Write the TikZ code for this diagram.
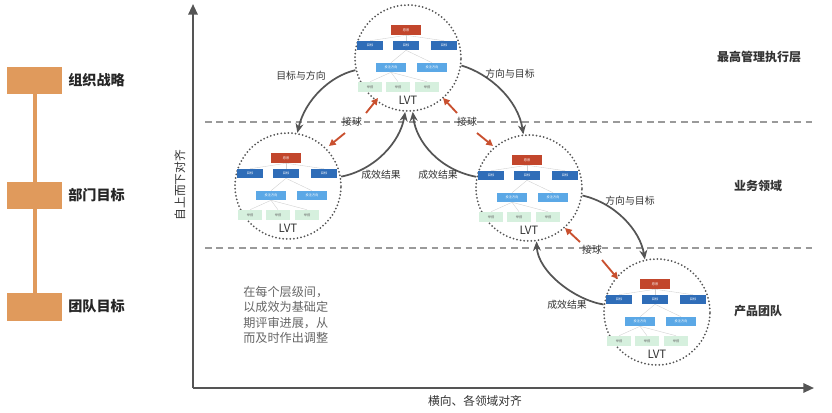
\documentclass[tikz,border=0pt]{standalone}
\usepackage{fontspec}
\setmainfont{Noto Sans CJK SC}
\usetikzlibrary{arrows.meta}
\definecolor{axisgray}{HTML}{555555}
\definecolor{txtgray}{HTML}{333333}
\definecolor{notegray}{HTML}{666666}
\definecolor{dashgray}{HTML}{9A9A9A}
\definecolor{legorange}{HTML}{E09A5C}
\definecolor{redarrow}{HTML}{C9502F}
\definecolor{lvtred}{HTML}{C2462C}
\definecolor{lvtblue}{HTML}{2F6DB8}
\definecolor{lvtlight}{HTML}{5BA8E6}
\definecolor{lvtgreen}{HTML}{D6F0DE}
\tikzset{
  lbl/.style={text=txtgray, font=\fontsize{7.4pt}{9pt}\selectfont, inner sep=1pt},
  axlbl/.style={text=txtgray, font=\fontsize{8.8pt}{10pt}\selectfont, inner sep=1pt},
  lvl/.style={text=txtgray, font=\fontsize{9pt}{10pt}\selectfont\bfseries, inner sep=1pt},
  legbox/.style={fill=legorange, draw=none, minimum width=41.25pt, minimum height=20.5pt, inner sep=0pt},
  leglbl/.style={text=black!85, font=\fontsize{10.6pt}{12pt}\selectfont\bfseries, anchor=west, inner sep=0pt},
  conn/.style={draw=axisgray, line width=1.3pt, -{Stealth[length=7pt,width=6pt]}},
  redarr/.style={draw=redarrow, line width=1.4pt, -{Triangle[length=5pt,width=5pt]}},
  lvtcirc/.style={circle, draw=axisgray, line width=1.5pt, line cap=round, dash pattern=on 0pt off 2.7pt, minimum size=79.5pt, inner sep=0pt},
  tbox/.style={inner sep=0pt, font=\fontsize{2.4pt}{3pt}\selectfont},
  rbox/.style={tbox, fill=lvtred, text=white, minimum width=22.5pt, minimum height=7.5pt},
  bbox/.style={tbox, fill=lvtblue, text=white, minimum width=19.5pt, minimum height=6.75pt},
  lbbox/.style={tbox, fill=lvtlight, text=white, minimum width=22.5pt, minimum height=6.75pt},
  gbox/.style={tbox, fill=lvtgreen, text=black!60, minimum width=18pt, minimum height=7.5pt},
  treeln/.style={draw=black!18, line width=0.3pt},
  lvt/.pic={
    \node[lvtcirc] (-c) at (0,0) {};
    \node[rbox] (-r) at (-2,-28) {愿景};
    \node[bbox] (-b1) at (-38,-12.5) {目标};
    \node[bbox] (-b2) at (-2,-12.5) {目标};
    \node[bbox] (-b3) at (36,-12.5) {目标};
    \node[lbbox] (-l1) at (-17,9.5) {投注方向};
    \node[lbbox] (-l2) at (24,9.5) {投注方向};
    \node[gbox] (-g1) at (-38,29) {举措};
    \node[gbox] (-g2) at (-10,29) {举措};
    \node[gbox] (-g3) at (19,29) {举措};
    \draw[treeln] (-r.south) -- (-b1.north);
    \draw[treeln] (-r.south) -- (-b2.north);
    \draw[treeln] (-r.south) -- (-b3.north);
    \draw[treeln] (-b2.south) -- (-l1.north);
    \draw[treeln] (-b2.south) -- (-l2.north);
    \draw[treeln] (-l1.south) -- (-g1.north);
    \draw[treeln] (-l1.south) -- (-g2.north);
    \draw[treeln] (-l1.south) -- (-g3.north);
    \node[text=txtgray, font=\fontsize{8.6pt}{10pt}\selectfont, inner sep=0pt] (-t) at (0,42) {LVT};
  }
}
\begin{document}
\begin{tikzpicture}[x=0.75pt,y=-0.75pt]
\useasboundingbox (0,0) rectangle (832,412);

% left legend
\node[legbox] (s1) at (34.5,80.5) {};
\node[legbox] (s2) at (34.5,195.5) {};
\node[legbox] (s3) at (34.5,307) {};
\draw[legorange, line width=3pt] (s1.south) -- (s2.north);
\draw[legorange, line width=3pt] (s2.south) -- (s3.north);
\node[leglbl] (s1t) at (68,80) {组织战略};
\node[leglbl] (s2t) at (68,195) {部门目标};
\node[leglbl] (s3t) at (68,306) {团队目标};

% axes
\coordinate (origin) at (193,388);
\coordinate (ytop) at (193,4);
\coordinate (xend) at (814,388);
\draw[axisgray, line width=1.5pt, -{Triangle[length=8pt,width=7pt]}] (origin) -- (ytop);
\draw[axisgray, line width=1.5pt, -{Triangle[length=8pt,width=7pt]}] (origin) -- (xend);
\node[axlbl, rotate=90] (ylab) at (180,185) {自上而下对齐};
\node[axlbl] (xlab) at (475,401) {横向、各领域对齐};

% dashed separators
\coordinate (d1a) at (205,122); \coordinate (d1b) at (812,122);
\coordinate (d2a) at (205,248); \coordinate (d2b) at (812,248);
\draw[dashgray, line width=1.1pt, dash pattern=on 5pt off 3.5pt] (d1a) -- (d1b);
\draw[dashgray, line width=1.1pt, dash pattern=on 5pt off 3.5pt] (d2a) -- (d2b);

% level labels
\node[lvl] (lv1) at (759,57) {最高管理执行层};
\node[lvl] (lv2) at (758,186) {业务领域};
\node[lvl] (lv3) at (758,311) {产品团队};

% LVT circles
\pic (top) at (408,58) {lvt};
\pic (lft) at (288,186) {lvt};
\pic (rgt) at (529,188) {lvt};
\pic (bot) at (657,312) {lvt};

% grey connectors
\draw[conn] (top-c.193) .. controls (330,76) and (305,100) .. (lft-c.80);
\draw[conn] (top-c.-8) .. controls (490,74) and (518,100) .. (rgt-c.96);
\draw[conn] (lft-c.10) .. controls (375,170) and (400,142) .. (top-c.-93);
\draw[conn] (rgt-c.168) .. controls (440,170) and (416,142) .. (top-c.-85);
\draw[conn] (rgt-c.-8) .. controls (615,203) and (640,230) .. (bot-c.103);
\draw[conn] (bot-c.172) .. controls (575,300) and (538,272) .. (rgt-c.-82);

\node[lbl] (e1) at (301,76) {目标与方向};
\node[lbl] (e2) at (510,74) {方向与目标};
\node[lbl] (e3) at (381,175) {成效结果};
\node[lbl] (e4) at (438,175) {成效结果};
\node[lbl] (e5) at (630,201) {方向与目标};
\node[lbl] (e6) at (567,305) {成效结果};

% red hand-off arrows
\node[lbl] (j1) at (352,122) {接球};
\node[lbl] (j2) at (467,122) {接球};
\node[lbl] (j3) at (592,250) {接球};
\coordinate (j1a) at (366,113); \coordinate (j1at) at (378,98);
\coordinate (j1b) at (345,133); \coordinate (j1bt) at (329,146);
\coordinate (j2a) at (457,113); \coordinate (j2at) at (443,98);
\coordinate (j2b) at (477,133); \coordinate (j2bt) at (493,146);
\coordinate (j3a) at (580,242); \coordinate (j3at) at (565,228);
\coordinate (j3b) at (602,260); \coordinate (j3bt) at (618,279);
\draw[redarr] (j1a) -- (j1at);
\draw[redarr] (j1b) -- (j1bt);
\draw[redarr] (j2a) -- (j2at);
\draw[redarr] (j2b) -- (j2bt);
\draw[redarr] (j3a) -- (j3at);
\draw[redarr] (j3b) -- (j3bt);

% note
\node[text=notegray, font=\fontsize{9.1pt}{11.5pt}\selectfont, align=left, anchor=north west, inner sep=0pt] (note) at (243,286) {在每个层级间，\\以成效为基础定\\期评审进展，从\\而及时作出调整};
\end{tikzpicture}
\end{document}
